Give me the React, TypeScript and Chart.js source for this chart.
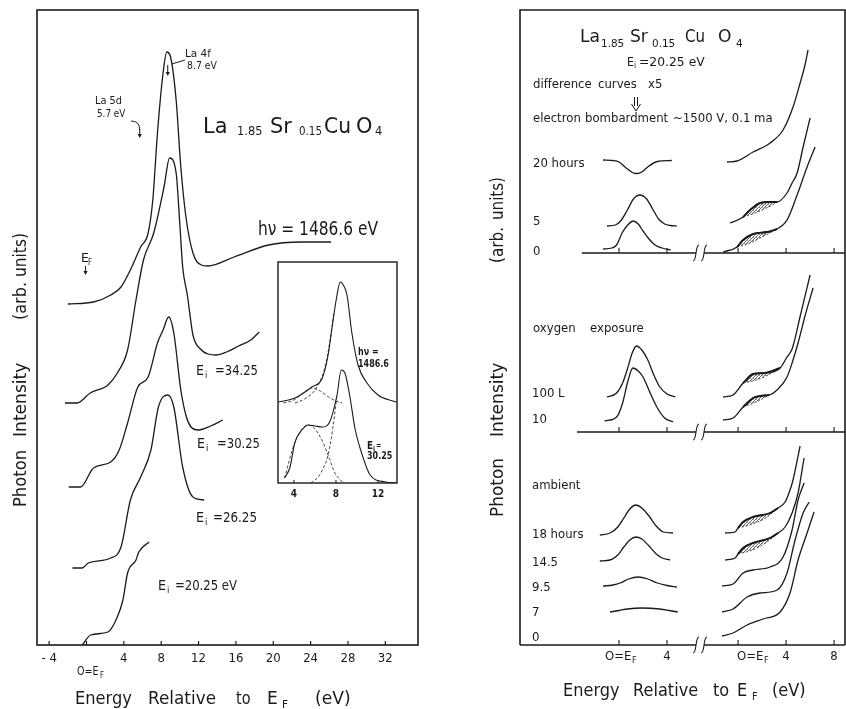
import React, { useEffect, useRef } from 'react';
import { Chart, registerables } from 'chart.js';

Chart.register(...registerables);

const W = 846;
const H = 709;
const INK = '#1a1a1a';
const FONT = "'DejaVu Sans', 'Liberation Sans', sans-serif";

// ---------- Left panel: valence-band spectra (energy in eV, intensity arb. units) ----------
const xpsE = [-2.0, 0.75, 2.6, 3.7, 4.7, 5.8, 6.6, 7.1, 7.6, 8.2, 8.6, 9.0, 9.6, 10.1, 10.65, 11.4, 12.3, 13.0, 15.8, 19.5, 23.0, 26.2];
const xpsI = [341, 343, 350, 358, 375, 398, 412, 445, 512, 572, 593, 588, 545, 478, 428, 392, 380, 379, 388, 400, 403, 403];
const ei34E = [-2.3, -1.0, 0.4, 2.3, 3.3, 4.4, 5.3, 6.1, 7.2, 8.3, 8.9, 9.6, 10.0, 10.3, 10.8, 11.4, 12.2, 13.0, 13.9, 15.0, 16.3, 17.6, 18.5];
const ei34I = [242, 242, 252, 260, 272, 295, 345, 385, 412, 458, 487, 472, 420, 378, 350, 310, 296, 291, 290, 293, 299, 305, 313];
const ei30E = [-1.9, -0.65, 0.75, 2.6, 3.5, 4.4, 5.5, 6.6, 7.6, 8.2, 8.8, 9.35, 10.1, 10.7, 11.2, 12.0, 13.3, 14.6];
const ei30I = [158, 158, 177, 183, 195, 222, 258, 268, 302, 315, 328, 312, 255, 228, 218, 215, 219, 225];
const ei26E = [-1.5, -0.45, 0.2, 2.6, 3.7, 4.7, 5.8, 6.9, 7.7, 8.7, 9.35, 10.3, 11.4, 12.6];
const ei26I = [77, 77, 82, 87, 98, 145, 168, 195, 238, 250, 238, 178, 148, 145];
const ei20E = [-0.45, 0.45, 2.3, 3.3, 3.9, 4.4, 5.3, 5.6, 6.7];
const ei20I = [0, 10, 13, 28, 45, 72, 85, 93, 103];

const leftTickVals = [-4, 0, 4, 8, 12, 16, 20, 24, 28, 32];
const leftTickText = ['- 4', '', '4', '8', '12', '16', '20', '24', '28', '32'];

// ---------- Inset: peak decomposition ----------
const insXpsE = [2.5, 4.1, 5.7, 6.7, 7.25, 7.7, 8.1, 8.4, 8.7, 9.05, 9.5, 10.1, 10.95, 12.0, 13.4, 13.8];
const insXpsI = [81, 85, 96, 105, 128, 161, 188, 201, 198, 188, 151, 118, 100, 88, 82, 81];
const insXpsBroadE = [3.0, 4.0, 5.0, 5.7, 6.5, 7.3, 8.0, 8.6];
const insXpsBroadI = [80, 83, 91, 95, 92, 86, 82, 80];
const insXpsNarrowE = [4.1, 5.0, 6.0, 6.9, 7.4, 7.8];
const insXpsNarrowI = [80, 84, 93, 114, 140, 170];
const insEi30E = [3.1, 3.6, 4.1, 4.75, 5.35, 6.0, 6.7, 7.4, 8.1, 8.5, 8.85, 9.3, 9.8, 10.5, 11.25, 12.7, 13.8];
const insEi30I = [5, 15, 41, 53, 58, 57, 56, 61, 88, 113, 110, 88, 55, 28, 8, 1, 0];
const insEi30BroadE = [3.1, 4.1, 5.35, 6.0, 6.7, 7.25, 7.9, 8.6];
const insEi30BroadI = [5, 41, 58, 54, 42, 28, 10, 1];
const insEi30NarrowE = [5.6, 6.3, 6.8, 7.25, 7.7, 8.1];
const insEi30NarrowI = [0, 6, 15, 28, 55, 88];
const insetTickVals = [4, 8, 12];

// ---------- Right panel: Ei = 20.25 eV, treatment series ----------
// zero lines of the three stacked groups
const groupBase = [392, 213, 0];
const groupAxisStart = [-3.1, -3.5, -8.25];
// the spectra group sits on the far side of the axis break
const EDC_SHIFT = 9.92;
const BREAK_X = 6.75;
const diffTickVals = [0, 4];
const edcTickVals = [0, 4, 8];

// electron bombardment: difference curves (x5)
const d20hE = [-1.33, -0.5, 0, 0.6, 1.2, 1.5, 1.9, 2.5, 3.2, 4.4];
const d20hI = [485, 484.5, 483, 477, 472, 471.5, 473, 479, 483.5, 484.5];
const d5hE = [-1.0, -0.3, 0.2, 0.7, 1.2, 1.75, 2.3, 2.8, 3.3, 3.8, 4.3, 4.8];
const d5hI = [419, 420, 425, 435, 446, 450, 446, 436, 426, 421, 419.5, 419];
const d0hE = [-1.33, -0.6, -0.2, 0.3, 0.8, 1.17, 1.6, 2.0, 2.5, 3.0, 3.6, 4.3];
const d0hI = [396, 397, 400, 413, 421, 424, 421, 414, 406, 400, 397, 395];
// electron bombardment: spectra
const s20hE = [-0.92, -0.08, 1.25, 2.67, 3.75, 4.58, 5.17, 5.58, 5.83];
const s20hI = [483, 484, 493, 502, 515, 538, 562, 580, 595];
const s5hE = [-0.67, 0.42, 1.0, 1.83, 2.6, 3.25, 4.08, 4.5, 4.92, 5.42, 6.0];
const s5hI = [422, 428, 435, 442, 443, 443, 452, 462, 472, 498, 527];
const s5hRefE = [0.42, 1.2, 2.0, 2.7, 3.25];
const s5hRefI = [428, 431, 435, 439, 443];
const s0hE = [-1.25, -0.08, 0.42, 1.25, 2.42, 3.25, 4.08, 4.92, 5.75, 6.42];
const s0hI = [393, 398, 405, 411, 413, 416, 425, 450, 478, 498];
const s0hRefE = [-0.08, 1.0, 2.0, 3.25];
const s0hRefI = [398, 402, 408, 416];

// oxygen exposure
const d100E = [-1.0, -0.2, 0.3, 0.7, 1.1, 1.45, 1.9, 2.4, 2.9, 3.4, 4.0, 4.7];
const d100I = [248, 252, 262, 276, 292, 299, 295, 285, 270, 258, 251, 248];
const d10E = [-1.2, -0.2, 0.3, 0.7, 1.15, 1.6, 2.0, 2.6, 3.2, 3.8, 4.5];
const d10I = [224, 228, 242, 262, 277, 274, 268, 252, 237, 227, 223];
const s100E = [-1.25, -0.42, 0.42, 1.25, 2.2, 3.5, 4.08, 4.5, 5.2, 6.0];
const s100I = [248, 250, 262, 271, 272, 277, 288, 296, 330, 370];
const s100RefE = [0.42, 1.5, 2.5, 3.5];
const s100RefI = [262, 265, 270, 277];
const s10E = [-1.25, -0.42, 0.42, 1.25, 1.9, 2.6, 3.25, 4.08, 4.58, 5.0, 5.6, 6.25];
const s10I = [225, 227, 238, 247, 249, 250, 255, 268, 285, 302, 330, 357];
const s10RefE = [0.42, 1.5, 2.6];
const s10RefI = [238, 243, 250];

// ambient
const d18E = [-1.6, -0.75, -0.1, 0.4, 0.9, 1.4, 1.9, 2.5, 3.1, 3.7, 4.5];
const d18I = [110, 112, 118, 127, 136, 140, 137, 129, 119, 113, 112];
const d14E = [-1.6, -0.75, -0.1, 0.4, 0.9, 1.4, 1.9, 2.5, 3.1, 3.6, 4.25];
const d14I = [84, 85, 90, 98, 105, 108, 106, 99, 91, 87, 85];
const d9E = [-1.33, -0.5, 0.1, 0.8, 1.6, 2.4, 3.2, 4.0, 4.83];
const d9I = [59, 60, 62, 66, 68, 66, 62, 59.5, 58];
const d7E = [-0.75, 0, 0.7, 1.9, 3.4, 4.2, 4.9];
const d7I = [33, 34.5, 36, 37, 36, 34.5, 33];
const s18E = [-1.08, -0.25, 0.0, 0.42, 1.25, 2.67, 3.33, 3.92, 4.33, 4.58, 5.17];
const s18I = [112, 113, 117, 123, 128, 132, 137, 143, 155, 165, 199];
const s18RefE = [0, 1.2, 2.3, 3.33];
const s18RefI = [117, 121, 127, 137];
const s14E = [-1.08, -0.25, 0.0, 0.42, 1.25, 2.67, 3.33, 3.92, 4.5, 5.0, 5.5];
const s14I = [85, 87, 91, 97, 102, 107, 112, 118, 132, 152, 187];
const s14RefE = [0, 1.2, 2.3, 3.33];
const s14RefI = [91, 95, 102, 112];
const s9E = [-1.33, -0.42, 0.42, 1.25, 2.67, 3.75, 4.5, 5.0, 5.5];
const s9I = [59, 61, 72, 75, 78, 88, 115, 145, 162];
const s7E = [-1.33, -0.42, 0.75, 1.83, 3.25, 4.08, 4.75, 5.42, 5.92];
const s7I = [33, 36, 48, 52, 55, 72, 105, 132, 143];
const s0E = [-1.33, -0.42, 0.75, 2.08, 3.5, 4.33, 5.0, 5.75, 6.33];
const s0I = [9, 12, 20, 26, 33, 52, 85, 112, 133];

// ---------- drawing helpers ----------
type Txt = [string, number, number, number, number?];

// slightly condensed lettering; a target width narrows it a little more if needed
const fitScale = (m: number, w: number) => (w > 0 ? Math.min(0.95, Math.max(0.8, w / m)) : 0.9);

function text(ctx: CanvasRenderingContext2D, s: string, x: number, y: number, size: number, w = 0, align = 'left', weight = 'normal') {
  ctx.save();
  ctx.font = `${weight} ${size}px ${FONT}`;
  ctx.fillStyle = INK;
  ctx.textBaseline = 'alphabetic';
  ctx.textAlign = 'left';
  const m = ctx.measureText(s).width;
  const k = fitScale(m, w);
  const dx = align === 'center' ? -(m * k) / 2 : 0;
  ctx.translate(x + dx, y);
  ctx.scale(k, 1);
  ctx.fillText(s, 0, 0);
  ctx.restore();
}

function vtext(ctx: CanvasRenderingContext2D, s: string, x: number, yBottom: number, size: number, len: number) {
  ctx.save();
  ctx.font = `${size}px ${FONT}`;
  ctx.fillStyle = INK;
  const m = ctx.measureText(s).width;
  ctx.translate(x, yBottom);
  ctx.rotate(-Math.PI / 2);
  ctx.scale(fitScale(m, len), 1);
  ctx.fillText(s, 0, 0);
  ctx.restore();
}

function drawTexts(ctx: CanvasRenderingContext2D, list: Txt[], weight = 'normal') {
  for (const [s, x, y, size, w] of list) text(ctx, s, x, y, size, w || 0, 'left', weight);
}

function arrowDown(ctx: CanvasRenderingContext2D, x: number, y0: number, y1: number, head = 3) {
  ctx.beginPath();
  ctx.moveTo(x, y0);
  ctx.lineTo(x, y1 - head);
  ctx.stroke();
  ctx.beginPath();
  ctx.moveTo(x - head * 0.7, y1 - head - 1);
  ctx.lineTo(x + head * 0.7, y1 - head - 1);
  ctx.lineTo(x, y1);
  ctx.closePath();
  ctx.fill();
}

function breakMark(ctx: CanvasRenderingContext2D, cx: number, cy: number) {
  for (const dx of [-4, 4]) {
    const x0 = cx + dx;
    ctx.beginPath();
    ctx.moveTo(x0 - 3, cy + 8);
    ctx.bezierCurveTo(x0 + 1, cy + 8, x0 - 1, cy - 8, x0 + 3, cy - 8);
    ctx.stroke();
  }
}

const curve = (E: number[], I: number[], shift = 0, extra: any = {}) => ({
  data: E.map((e, i) => ({ x: e + shift, y: I[i] })),
  borderColor: INK,
  borderWidth: 1.3,
  pointRadius: 0,
  fill: false,
  cubicInterpolationMode: 'monotone',
  ...extra,
});

// shaded region between a spectrum and its reference (dashed) line
const lens = (E: number[], I: number[], refE: number[], refI: number[], shift: number, hatch: any) => {
  const lo = refE[0] - 1e-6;
  const hi = refE[refE.length - 1] + 1e-6;
  const idx = E.map((e, i) => i).filter((i) => E[i] >= lo && E[i] <= hi);
  return [
    curve(refE, refI, shift, { borderWidth: 0.8, borderDash: [2, 2] }),
    curve(idx.map((i) => E[i]), idx.map((i) => I[i]), shift, {
      borderWidth: 1.9,
      fill: '-1',
      backgroundColor: hatch,
    }),
  ];
};

const baseOptions = (xmin: number, xmax: number, ymax: number, padding: any, plugin: any) => ({
  type: 'line' as const,
  options: {
    responsive: false,
    animation: false as const,
    devicePixelRatio: 1,
    layout: { padding },
    plugins: { legend: { display: false }, tooltip: { enabled: false } },
    scales: {
      x: { type: 'linear' as const, min: xmin, max: xmax, display: false },
      y: { type: 'linear' as const, min: 0, max: ymax, display: false },
    },
  },
  plugins: [plugin],
});

// ---------- decorations ----------
const leftDecor = {
  id: 'leftDecor',
  afterDraw(chart: any) {
    const { ctx, chartArea: a, scales } = chart;
    const sx = scales.x;
    ctx.save();
    ctx.strokeStyle = INK;
    ctx.fillStyle = INK;
    ctx.lineWidth = 1.6;
    ctx.strokeRect(a.left, a.top, a.right - a.left, a.bottom - a.top);
    ctx.lineWidth = 1.2;
    leftTickVals.forEach((v, i) => {
      const x = sx.getPixelForValue(v);
      ctx.beginPath();
      ctx.moveTo(x, a.bottom);
      ctx.lineTo(x, a.bottom - 4);
      ctx.stroke();
      if (leftTickText[i]) text(ctx, leftTickText[i], x, a.bottom + 17, 13, 0, 'center');
    });
    drawTexts(ctx, [
      ['O=E', 77, 675, 12, 21],
      ['F', 100, 678, 8, 4],
      ['Energy', 75, 704, 18, 57],
      ['Relative', 148, 704, 18, 68],
      ['to', 236, 704, 18, 14],
      ['E', 267, 704, 18, 13],
      ['F', 282, 708, 11, 6],
      ['(eV)', 315, 704, 18, 40],
      ['La', 203, 133, 22, 29],
      ['1.85', 237, 135, 12, 27],
      ['Sr', 270, 133, 22, 28],
      ['0.15', 299, 135, 12, 23],
      ['Cu', 324, 133, 22, 27],
      ['O', 356, 133, 22, 19],
      ['4', 375, 135, 12, 8],
      ['h\u03BD = 1486.6 eV', 258, 235, 19, 120],
      ['La 4f', 185, 57, 11, 30],
      ['8.7 eV', 187, 69, 11, 30],
      ['La 5d', 95, 104, 11, 27],
      ['5.7 eV', 97, 117, 11, 28],
      ['E', 81, 262, 13, 8],
      ['F', 88, 265, 8, 4],
      ['E', 196, 375, 14, 8], ['i', 205, 378, 9, 3], ['=34.25', 215, 375, 14, 43],
      ['E', 197, 448, 14, 8], ['i', 206, 451, 9, 3], ['=30.25', 217, 448, 14, 43],
      ['E', 196, 522, 14, 8], ['i', 205, 525, 9, 3], ['=26.25', 213, 522, 14, 44],
      ['E', 158, 590, 14, 8], ['i', 167, 593, 9, 3], ['=20.25 eV', 175, 590, 14, 62],
    ]);
    vtext(ctx, 'Photon', 26, 507, 18, 57);
    vtext(ctx, 'Intensity', 26, 437, 18, 87);
    vtext(ctx, '(arb.', 26, 320, 18, 38);
    vtext(ctx, 'units)', 26, 277, 18, 44);
    // peak markers
    ctx.lineWidth = 1;
    const x4f = sx.getPixelForValue(8.7);
    ctx.beginPath();
    ctx.moveTo(185, 60);
    ctx.lineTo(x4f + 4, 64);
    ctx.stroke();
    arrowDown(ctx, x4f, 65, 76, 3);
    const x5d = sx.getPixelForValue(5.7);
    ctx.beginPath();
    ctx.moveTo(131, 121);
    ctx.quadraticCurveTo(x5d, 121, x5d, 130);
    ctx.stroke();
    arrowDown(ctx, x5d, 129, 138, 3);
    arrowDown(ctx, sx.getPixelForValue(0) - 1, 266, 275, 3);
    ctx.restore();
  },
};

const insetDecor = {
  id: 'insetDecor',
  beforeDraw(chart: any) {
    const { ctx, chartArea: a } = chart;
    ctx.save();
    ctx.fillStyle = '#fff';
    ctx.fillRect(a.left, a.top, a.right - a.left, a.bottom - a.top);
    ctx.restore();
  },
  afterDraw(chart: any) {
    const { ctx, chartArea: a, scales } = chart;
    ctx.save();
    ctx.strokeStyle = INK;
    ctx.lineWidth = 1.4;
    ctx.strokeRect(a.left, a.top, a.right - a.left, a.bottom - a.top);
    ctx.lineWidth = 1;
    insetTickVals.forEach((v) => {
      const x = scales.x.getPixelForValue(v);
      ctx.beginPath();
      ctx.moveTo(x, a.bottom);
      ctx.lineTo(x, a.bottom - 3);
      ctx.stroke();
      text(ctx, String(v), x, a.bottom + 14, 10, 0, 'center', 'bold');
    });
    drawTexts(ctx, [
      ['h\u03BD =', 358, 355, 10, 17],
      ['1486.6', 358, 367, 10, 30],
      ['E', 367, 449, 10, 6],
      ['i', 373, 451, 7, 2],
      ['=', 376, 448, 8, 4],
      ['30.25', 367, 459, 10, 23],
    ], 'bold');
    ctx.restore();
  },
};

const rightDecor = {
  id: 'rightDecor',
  afterDraw(chart: any) {
    const { ctx, chartArea: a, scales } = chart;
    const sx = scales.x;
    const sy = scales.y;
    ctx.save();
    ctx.strokeStyle = INK;
    ctx.fillStyle = INK;
    ctx.lineWidth = 1.6;
    ctx.beginPath();
    ctx.moveTo(a.left, a.bottom);
    ctx.lineTo(a.left, a.top);
    ctx.lineTo(a.right, a.top);
    ctx.lineTo(a.right, a.bottom);
    ctx.stroke();
    const bx = sx.getPixelForValue(BREAK_X);
    groupBase.forEach((b, k) => {
      const y = sy.getPixelForValue(b);
      const x0 = sx.getPixelForValue(groupAxisStart[k]);
      ctx.lineWidth = k === 2 ? 1.6 : 1.3;
      ctx.beginPath();
      ctx.moveTo(x0, y);
      ctx.lineTo(bx - 4, y);
      ctx.moveTo(bx + 4, y);
      ctx.lineTo(a.right, y);
      ctx.stroke();
      ctx.lineWidth = 1.1;
      breakMark(ctx, bx, y);
      const ticks = [...diffTickVals, ...edcTickVals.map((v) => v + EDC_SHIFT)];
      ticks.forEach((v) => {
        const x = sx.getPixelForValue(v);
        ctx.beginPath();
        ctx.moveTo(x, y);
        ctx.lineTo(x, y - 5);
        ctx.stroke();
      });
    });
    // tick labels on the bottom axis
    text(ctx, String(diffTickVals[1]), sx.getPixelForValue(diffTickVals[1]), 660, 13, 0, 'center');
    text(ctx, String(edcTickVals[1]), sx.getPixelForValue(edcTickVals[1] + EDC_SHIFT), 660, 13, 0, 'center');
    text(ctx, String(edcTickVals[2]), sx.getPixelForValue(edcTickVals[2] + EDC_SHIFT), 660, 13, 0, 'center');
    drawTexts(ctx, [
      ['O=E', 605, 660, 13], ['F', 632, 663, 9],
      ['O=E', 737, 660, 13], ['F', 764, 663, 9],
      ['Energy', 563, 696, 17, 59],
      ['Relative', 633, 696, 17, 70],
      ['to', 713, 696, 17, 17],
      ['E', 737, 696, 17, 13],
      ['F', 752, 700, 10, 6],
      ['(eV)', 772, 696, 17, 38],
      ['La', 580, 42, 18, 20], ['1.85', 601, 47, 11, 26], ['Sr', 630, 42, 18, 22],
      ['0.15', 652, 47, 11, 28], ['Cu', 685, 42, 18, 20], ['O', 718, 42, 18, 17], ['4', 736, 47, 11, 7],
      ['E', 627, 66, 13, 7], ['i', 634, 68, 8, 3], ['=20.25 eV', 639, 66, 13, 66],
      ['difference', 533, 88, 13], ['curves', 598, 88, 13], ['x5', 648, 88, 13],
      ['electron', 533, 122, 13], ['bombardment', 585, 122, 13],
      ['~1500 V, 0.1 ma', 673, 122, 13],
      ['20 hours', 533, 167, 13], ['5', 533, 225, 13], ['0', 533, 255, 13],
      ['oxygen', 533, 332, 13], ['exposure', 590, 332, 13],
      ['100 L', 532, 397, 13], ['10', 532, 423, 13],
      ['ambient', 532, 489, 13], ['18 hours', 532, 538, 13], ['14.5', 532, 566, 13],
      ['9.5', 532, 591, 13], ['7', 532, 616, 13], ['0', 532, 641, 13],
    ]);
    vtext(ctx, 'Photon', 503, 517, 18, 59);
    vtext(ctx, 'Intensity', 503, 437, 18, 80);
    vtext(ctx, '(arb.', 503, 263, 18, 36);
    vtext(ctx, 'units)', 503, 220, 18, 43);
    // double arrow under "difference curves"
    ctx.lineWidth = 1;
    ctx.beginPath();
    ctx.moveTo(634.5, 97);
    ctx.lineTo(634.5, 106);
    ctx.moveTo(637.5, 97);
    ctx.lineTo(637.5, 106);
    ctx.moveTo(631.5, 104);
    ctx.lineTo(636, 111);
    ctx.lineTo(640.5, 104);
    ctx.stroke();
    ctx.restore();
  },
};

function makeHatch(ctx: CanvasRenderingContext2D) {
  const c = document.createElement('canvas');
  c.width = 3;
  c.height = 3;
  const g = c.getContext('2d')!;
  g.fillStyle = '#666';
  g.fillRect(0, 2, 1, 1);
  g.fillRect(1, 1, 1, 1);
  g.fillRect(2, 0, 1, 1);
  g.fillStyle = '#aaa';
  g.fillRect(0, 0, 1, 1);
  return ctx.createPattern(c, 'repeat');
}

export default function App() {
  const leftRef = useRef<HTMLCanvasElement>(null);
  const insetRef = useRef<HTMLCanvasElement>(null);
  const rightRef = useRef<HTMLCanvasElement>(null);

  useEffect(() => {
    const charts: Chart[] = [];

    const left = baseOptions(-5.3, 35.5, 635, { left: 37, top: 10, right: W - 418, bottom: H - 645 }, leftDecor);
    charts.push(
      new Chart(leftRef.current!, {
        ...left,
        data: {
          datasets: [
            curve(xpsE, xpsI),
            curve(ei34E, ei34I),
            curve(ei30E, ei30I),
            curve(ei26E, ei26I),
            curve(ei20E, ei20I),
          ],
        },
      } as any)
    );

    const inset = baseOptions(2.48, 13.81, 221, { left: 278, top: 262, right: W - 397, bottom: H - 483 }, insetDecor);
    const dash = { borderWidth: 0.8, borderDash: [3, 2] };
    charts.push(
      new Chart(insetRef.current!, {
        ...inset,
        data: {
          datasets: [
            curve(insXpsE, insXpsI, 0, { borderWidth: 1.1 }),
            curve(insXpsBroadE, insXpsBroadI, 0, dash),
            curve(insXpsNarrowE, insXpsNarrowI, 0, dash),
            curve(insEi30E, insEi30I, 0, { borderWidth: 1.1 }),
            curve(insEi30BroadE, insEi30BroadI, 0, dash),
            curve(insEi30NarrowE, insEi30NarrowI, 0, dash),
          ],
        },
      } as any)
    );

    const rctx = rightRef.current!.getContext('2d')!;
    const hatch = makeHatch(rctx);
    const S = EDC_SHIFT;
    const right = baseOptions(-8.25, 18.83, 635, { left: 520, top: 10, right: W - 845, bottom: H - 645 }, rightDecor);
    charts.push(
      new Chart(rightRef.current!, {
        ...right,
        data: {
          datasets: [
            curve(d20hE, d20hI),
            curve(d5hE, d5hI),
            curve(d0hE, d0hI),
            curve(s20hE, s20hI, S),
            curve(s5hE, s5hI, S),
            ...lens(s5hE, s5hI, s5hRefE, s5hRefI, S, hatch),
            curve(s0hE, s0hI, S),
            ...lens(s0hE, s0hI, s0hRefE, s0hRefI, S, hatch),
            curve(d100E, d100I),
            curve(d10E, d10I),
            curve(s100E, s100I, S),
            ...lens(s100E, s100I, s100RefE, s100RefI, S, hatch),
            curve(s10E, s10I, S),
            ...lens(s10E, s10I, s10RefE, s10RefI, S, hatch),
            curve(d18E, d18I),
            curve(d14E, d14I),
            curve(d9E, d9I),
            curve(d7E, d7I),
            curve(s18E, s18I, S),
            ...lens(s18E, s18I, s18RefE, s18RefI, S, hatch),
            curve(s14E, s14I, S),
            ...lens(s14E, s14I, s14RefE, s14RefI, S, hatch),
            curve(s9E, s9I, S),
            curve(s7E, s7I, S),
            curve(s0E, s0I, S),
          ],
        },
      } as any)
    );

    return () => charts.forEach((c) => c.destroy());
  }, []);

  const cv: React.CSSProperties = { position: 'absolute', left: 0, top: 0 };
  return (
    <div style={{ position: 'fixed', left: 0, top: 0, width: W, height: H, background: '#fff', overflow: 'hidden' }}>
      <canvas ref={leftRef} width={W} height={H} style={cv} />
      <canvas ref={rightRef} width={W} height={H} style={cv} />
      <canvas ref={insetRef} width={W} height={H} style={cv} />
    </div>
  );
}
